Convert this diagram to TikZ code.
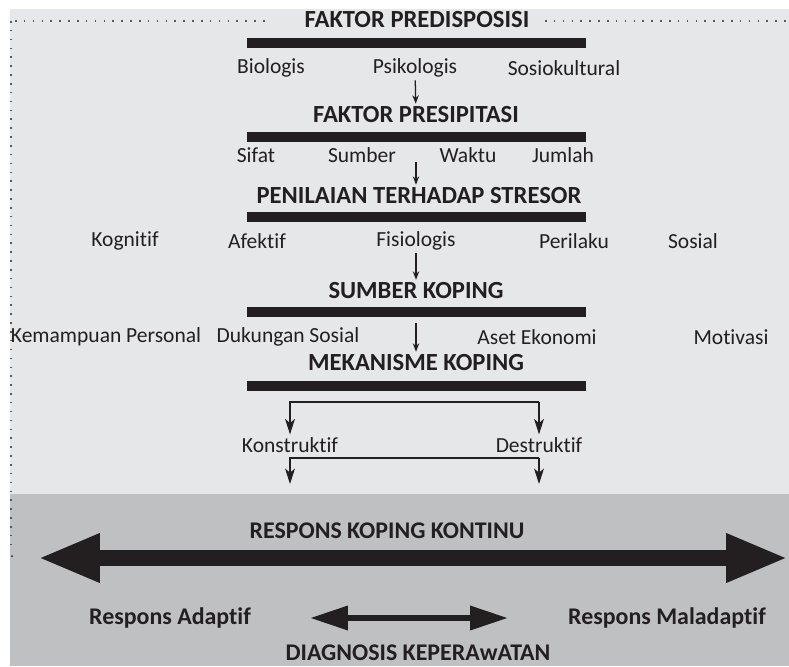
\documentclass[tikz,border=0pt]{standalone}
\usepackage{fontspec}
\setmainfont[Ligatures={NoCommon,NoRare,NoContextual}]{Carlito}
\usetikzlibrary{arrows.meta}

\definecolor{panellight}{HTML}{E6E7E8}
\definecolor{paneldark}{HTML}{BFC0C2}
\definecolor{ink}{HTML}{231F20}

\begin{document}
\begin{tikzpicture}[
    x=0.025cm, y=-0.025cm,
    heading/.style={font=\fontsize{17.5}{20}\selectfont\bfseries,text=ink,inner sep=2pt},
    item/.style={font=\fontsize{15.3}{18}\selectfont,text=ink,inner sep=2pt},
    bottom/.style={font=\fontsize{17}{20}\selectfont\bfseries,text=ink,inner sep=2pt},
    bar/.style={fill=ink},
    dotline/.style={draw=black!65,line width=1.1pt,dash pattern=on 1.1pt off 5.2pt},
    arr/.style={ink,line width=0.9pt,-{Stealth[length=6pt,width=4.5pt]}},
    barr/.style={ink,line width=0.8pt,-{Stealth[length=11pt,width=7pt,inset=3pt]}},
    bigarr/.style={ink,line width=10.7pt,{Triangle[length=44pt,width=32pt]}-{Triangle[length=44pt,width=32pt]}},
    smallarr/.style={ink,line width=4.3pt,{Triangle[length=27pt,width=16.5pt]}-{Triangle[length=27pt,width=16.5pt]}}
]
\useasboundingbox (0,0) rectangle (789,666);

% Panels
\fill[white] (0,0) rectangle (789,666);
\fill[panellight] (10,9) rectangle (789,494);
\fill[paneldark] (10,494) rectangle (789,666);
\draw[dotline] (11,21) -- (11,545);
\draw[dotline] (15,21) -- (270,21);
\draw[dotline] (545,21) -- (789,21);

% Faktor predisposisi
\node[heading] (pred) at (417,20) {FAKTOR PREDISPOSISI};
\fill[bar] (247,38) rectangle (586,48);
\node[item] (bio) at (271,68) {Biologis};
\node[item] (psi) at (415,68) {Psikologis};
\node[item] (sosk) at (564,68) {Sosiokultural};

% Faktor presipitasi
\node[heading] (pres) at (416,115) {FAKTOR PRESIPITASI};
\draw[arr] (psi) -- (pres);
\fill[bar] (247,132) rectangle (586,142);
\node[item] (sif) at (256,155) {Sifat};
\node[item] (sum) at (362,155) {Sumber};
\node[item] (wak) at (468,155) {Waktu};
\node[item] (jum) at (563,155) {Jumlah};

% Penilaian terhadap stresor
\node[heading] (pen) at (419,196) {PENILAIAN TERHADAP STRESOR};
\coordinate (a2) at (416,162);
\draw[arr] (a2) -- (pen.north -| a2);
\fill[bar] (247,212) rectangle (586,222);
\node[item] (kog) at (125,241) {Kognitif};
\node[item] (afe) at (257,241) {Afektif};
\node[item] (fis) at (416,241) {Fisiologis};
\node[item] (per) at (574,241) {Perilaku};
\node[item] (sos) at (693,241) {Sosial};

% Sumber koping
\node[heading] (skop) at (416,291) {SUMBER KOPING};
\draw[arr] (fis) -- (skop);
\fill[bar] (247,307) rectangle (586,317);
\node[item] (kem) at (106,337) {Kemampuan Personal};
\node[item] (duk) at (288,337) {Dukungan Sosial};
\node[item] (ase) at (537,337) {Aset Ekonomi};
\node[item] (mot) at (731,337) {Motivasi};

% Mekanisme koping
\node[heading] (mek) at (416,363) {MEKANISME KOPING};
\coordinate (a4) at (416,323);
\draw[arr] (a4) -- (mek);
\fill[bar] (247,381) rectangle (586,391);

% Konstruktif / destruktif
\node[item] (kon) at (290,445) {Konstruktif};
\node[item] (des) at (539,445) {Destruktif};
\coordinate (b1l) at (290,402);
\coordinate (b1r) at (539,402);
\draw[barr] (b1r) -- (b1l) -- (kon);
\draw[barr] (b1r) -- (des);
\coordinate (b2l) at (290,458);
\coordinate (b2r) at (539,458);
\coordinate (e2l) at (290,484);
\coordinate (e2r) at (539,484);
\draw[barr] (b2r) -- (b2l) -- (e2l);
\draw[barr] (b2r) -- (e2r);

% Respons koping kontinu
\node[bottom] (rkk) at (387,531) {RESPONS KOPING KONTINU};
\coordinate (kl) at (38,558);
\coordinate (kr) at (788,558);
\draw[bigarr] (kl) -- (kr);
\fill[ink] (12,556) circle (1);

\node[bottom] (rad) at (170,618) {Respons Adaptif};
\node[bottom] (rmal) at (667,618) {Respons Maladaptif};
\coordinate (sl) at (310,618);
\coordinate (sr) at (508,618);
\draw[smallarr] (sl) -- (sr);
\node[bottom] (dk) at (418,653) {DIAGNOSIS KEPERAwATAN};

\end{tikzpicture}
\end{document}
